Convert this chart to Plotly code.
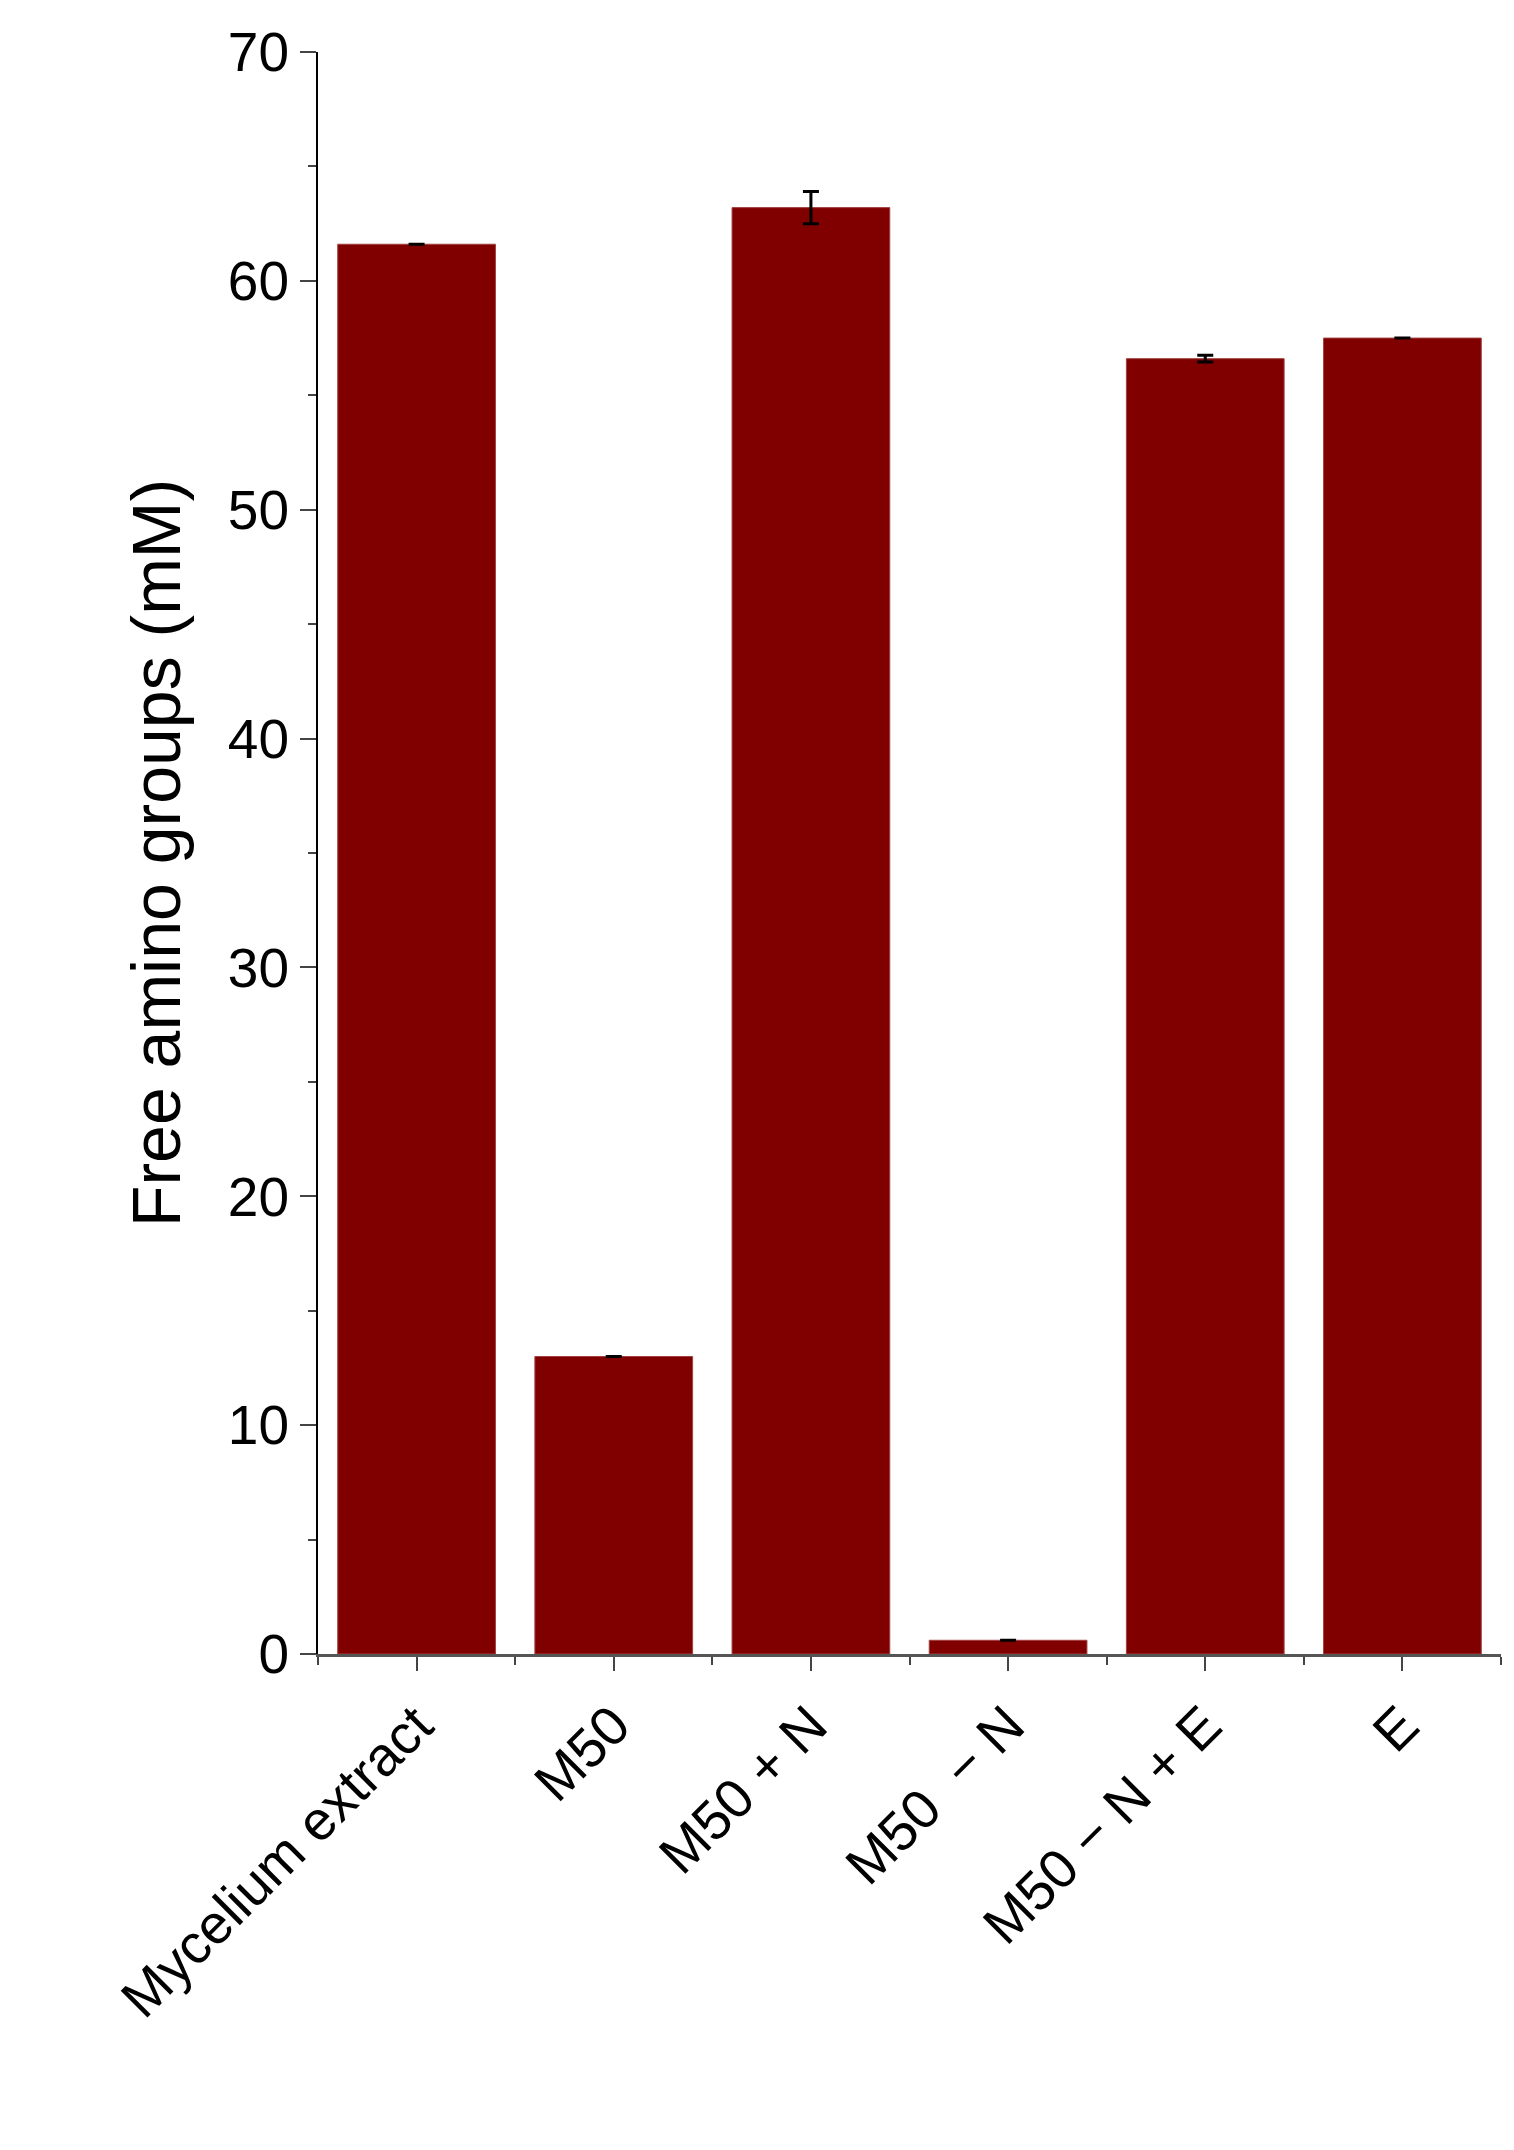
import plotly.graph_objects as go

categories = ["Mycelium extract", "M50", "M50 + N", "M50  − N", "M50 − N + E", "E"]
values = [61.6, 13.0, 63.2, 0.6, 56.6, 57.5]
errors = [0, 0, 0.7, 0, 0.15, 0]
yticks = [0, 10, 20, 30, 40, 50, 60, 70]

fig = go.Figure(go.Bar(
    x=list(range(len(categories))), y=values,
    marker=dict(color="#800000", line=dict(color="#a04040", width=1)),
    width=0.8,
    error_y=dict(type="data", array=errors, visible=True, color="black", thickness=3, width=8),
))
fig.update_layout(
    width=1514, height=2150, plot_bgcolor="white", paper_bgcolor="white",
    margin=dict(l=310, r=21, t=44, b=504),
    font=dict(family="Liberation Sans, Arial", color="black"),
    showlegend=False,
)
fig.update_xaxes(
    range=[-0.5, 5.5], tickmode="array", tickvals=list(range(6)), ticktext=categories,
    tickangle=-45, tickfont=dict(size=55), ticks="outside", ticklen=14, tickwidth=2,
    showline=True, linecolor="#555", linewidth=3, showgrid=False, zeroline=False,
    minor=dict(tickvals=[i + 0.5 for i in range(-1, 6)], ticks="outside", ticklen=8, tickwidth=2),
)
fig.update_yaxes(
    range=[0, 70], tickvals=yticks, tickfont=dict(size=55), ticks="outside", ticklen=16, tickwidth=2,
    showline=True, linecolor="black", linewidth=2, showgrid=False, zeroline=False,
    minor=dict(dtick=5, ticks="outside", ticklen=8, tickwidth=2),
    title=dict(text="Free amino groups (mM)", font=dict(size=68), standoff=25),
)
fig.write_html("out.html")
